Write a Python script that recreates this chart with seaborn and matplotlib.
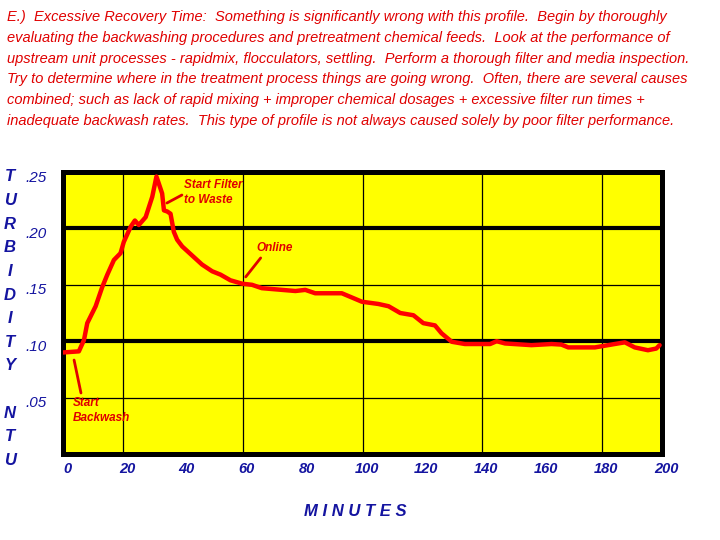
import numpy as np
import pandas as pd
import matplotlib
matplotlib.use("Agg")
import matplotlib.pyplot as plt
import matplotlib.transforms as mtransforms
from matplotlib import font_manager
import seaborn as sns

# turbidity profile
minutes = [0, 5.3, 7, 8.1, 10.9, 13.1, 14.8, 17, 19.2, 20.3, 22.6, 24, 25.3, 27.6,
           29.8, 31.2, 33.1, 33.7, 34.8, 35.9, 37, 38.1, 39.8, 43.1, 46.4, 49.8,
           52.6, 55.9, 59.8, 63.1, 66.4, 73.1, 77.6, 80.9, 84.2, 93.1, 99.8, 105.3,
           108.7, 112.6, 117, 120.3, 124.2, 126.4, 129.8, 134.2, 142.6, 144.8,
           147.6, 156.4, 163.1, 166.4, 168.7, 177.6, 184.2, 187.6, 190.9, 195.3,
           198.1, 199.2]
ntu = [0.090, 0.091, 0.101, 0.116, 0.131, 0.148, 0.159, 0.172, 0.178, 0.188, 0.2015,
       0.207, 0.203, 0.210, 0.228, 0.246, 0.231, 0.216, 0.215, 0.213, 0.197, 0.190,
       0.184, 0.176, 0.168, 0.162, 0.159, 0.154, 0.151, 0.150, 0.147, 0.1455,
       0.1445, 0.1455, 0.1425, 0.1425, 0.135, 0.133, 0.131, 0.125, 0.123, 0.116,
       0.114, 0.107, 0.0995, 0.0975, 0.0975, 0.100, 0.098, 0.0965, 0.0975, 0.097,
       0.0945, 0.0945, 0.0975, 0.099, 0.0945, 0.092, 0.0935, 0.0965]

x_ticks = [0, 20, 40, 60, 80, 100, 120, 140, 160, 180, 200]
y_ticks = [0.05, 0.10, 0.15, 0.20, 0.25]
y_tick_labels = [".05", ".10", ".15", ".20", ".25"]
thin_v = [20, 60, 100, 140, 180]
thin_h = [0.05, 0.15]
thick_h = [0.10, 0.20]

intro = [
    "E.)  Excessive Recovery Time:  Something is significantly wrong with this profile.  Begin by thoroughly",
    "evaluating the backwashing procedures and pretreatment chemical feeds.  Look at the performance of",
    "upstream unit processes - rapidmix, flocculators, settling.  Perform a thorough filter and media inspection.",
    "Try to determine where in the treatment process things are going wrong.  Often, there are several causes",
    "combined; such as lack of rapid mixing + improper chemical dosages + excessive filter run times +",
    "inadequate backwash rates.  This type of profile is not always caused solely by poor filter performance.",
]
y_letters = list("TURBIDITY") + [""] + list("NTU")

installed = {f.name for f in font_manager.fontManager.ttflist}
narrow = "Liberation Sans Narrow" if "Liberation Sans Narrow" in installed else "Liberation Sans"

sns.set_style("white")
plt.rcParams["font.family"] = [narrow, "DejaVu Sans"]

RED = "#e00000"
BLUE = "#1414a0"

df = pd.DataFrame({"minutes": minutes, "ntu": ntu})

fig = plt.figure(figsize=(7.2, 5.4), dpi=100)
ax = fig.add_axes([63 / 720, 1 - 454 / 540, 599 / 720, 282 / 540])
ax.set_facecolor("#ffff00")

for v in thin_v:
    ax.axvline(v, color="black", lw=0.9, zorder=1)
for h in thin_h:
    ax.axhline(h, color="black", lw=0.9, zorder=1)
for h in thick_h:
    ax.axhline(h, color="black", lw=3.0, zorder=1)

sns.lineplot(data=df, x="minutes", y="ntu", color="#ff0000", lw=3.2, ax=ax,
             zorder=3, solid_capstyle="round", solid_joinstyle="round")

ax.set_xlim(0, 200)
ax.set_ylim(0, 0.25)
ax.set_xlabel("")
ax.set_ylabel("")
for s in ax.spines.values():
    s.set_visible(True)
    s.set_color("black")
    s.set_linewidth(3.6)

ax.set_xticks(x_ticks)
ax.set_xticklabels([str(t) for t in x_ticks], fontsize=10.5, fontweight="bold",
                   fontstyle="italic", color=BLUE)
ax.set_yticks(y_ticks)
ax.set_yticklabels(y_tick_labels, fontsize=11, fontstyle="italic", color=BLUE)
ax.tick_params(axis="both", length=0)
ax.tick_params(axis="x", pad=6)
ax.tick_params(axis="y", pad=12)
for lab in ax.get_yticklabels():
    lab.set_transform(lab.get_transform() +
                      mtransforms.ScaledTranslation(0, -4 / 100, fig.dpi_scale_trans))
for lab in ax.get_xticklabels():
    lab.set_transform(lab.get_transform() +
                      mtransforms.ScaledTranslation(4 / 100, 0, fig.dpi_scale_trans))

# annotations
note = dict(color=RED, fontsize=8.5, fontweight="bold", fontstyle="italic")
ax.plot([3.7, 6.0], [0.0833, 0.0541], color=RED, lw=2, zorder=3)
ax.text(3.3, 0.0505, "Start\nBackwash", va="top", ha="left", linespacing=1.3, **note)
ax.plot([34.7, 39.7], [0.2225, 0.2296], color=RED, lw=2, zorder=3)
ax.text(40.3, 0.2438, "Start Filter\nto Waste", va="top", ha="left", linespacing=1.3, **note)
ax.plot([61, 66], [0.157, 0.1738], color=RED, lw=2, zorder=3)
ax.text(64.7, 0.1826, "Online", va="center", ha="left", **note)

# intro paragraph, sized so its widest line spans the same width as the reference
texts = []
for i, line in enumerate(intro):
    texts.append(fig.text(7 / 720, 1 - (17 + i * 20.8) / 540, line, color=RED,
                          fontsize=12, fontstyle="italic", ha="left", va="center"))
renderer = fig.canvas.get_renderer()
widest = max(t.get_window_extent(renderer).width for t in texts)
for t in texts:
    t.set_fontsize(12 * 683 / widest)

# vertical axis title
for i, ch in enumerate(y_letters):
    if ch:
        fig.text(10 / 720, 1 - (177 + i * 23.6) / 540, ch, color=BLUE, fontsize=12,
                 fontweight="bold", fontstyle="italic", ha="center", va="center",
                 family=["Liberation Sans", "DejaVu Sans"])

fig.text(355 / 720, 1 - 511 / 540, "M I N U T E S", color=BLUE, fontsize=12,
         fontweight="bold", fontstyle="italic", ha="center", va="center")

fig.savefig("out.png", dpi=100, facecolor="white")
